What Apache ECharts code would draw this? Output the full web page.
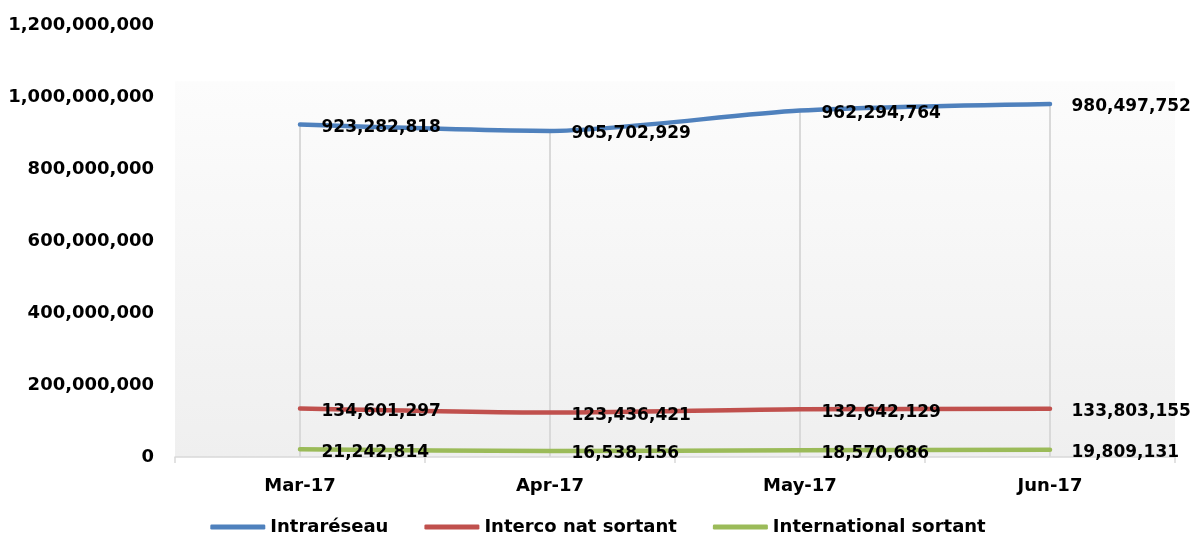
<!DOCTYPE html>
<html>
<head>
<meta charset="utf-8">
<script src="https://cdn.jsdelivr.net/npm/echarts@6/dist/echarts.min.js"></script>
<style>
html,body{margin:0;padding:0;background:#fff;}
#chart{width:1196px;height:543px;}
</style>
</head>
<body>
<div id="chart"></div>
<script>
const categories = ['Mar-17', 'Apr-17', 'May-17', 'Jun-17'];
const intrareseau = [923282818, 905702929, 962294764, 980497752];
const intercoNat = [134601297, 123436421, 132642129, 133803155];
const international = [21242814, 16538156, 18570686, 19809131];
const seriesNames = ['Intraréseau', 'Interco nat sortant', 'International sortant'];
const yTicks = { min: 0, max: 1200000000, interval: 200000000 };

const FONT = 'DejaVu Sans';
const fmt = v => Number(v).toLocaleString('en-US');

const chart = echarts.init(document.getElementById('chart'));
const labelCfg = {
  show: true,
  position: 'right',
  distance: 21,
  offset: [0, 3],
  color: '#000',
  fontFamily: FONT,
  fontWeight: 'bold',
  fontSize: 17,
  formatter: p => fmt(p.value)
};
function lineSeries(name, data, color) {
  return {
    name: name,
    type: 'line',
    data: data,
    smooth: 0.25,
    showSymbol: true,
    symbol: 'circle',
    symbolSize: 1,
    lineStyle: { color: color, width: 4.5, cap: 'round' },
    itemStyle: { color: color },
    label: labelCfg,
    z: 3
  };
}
chart.setOption({
  animation: false,
  grid: {
    left: 175, right: 21, top: 25, bottom: 86,
    show: true,
    borderWidth: 0,
    backgroundColor: {
      type: 'linear', x: 0, y: 0, x2: 0, y2: 1,
      colorStops: [
        { offset: 0, color: '#ffffff' },
        { offset: 0.13, color: '#ffffff' },
        { offset: 0.131, color: '#fcfcfc' },
        { offset: 1, color: '#efefef' }
      ]
    }
  },
  legend: {
    data: seriesNames,
    bottom: 2,
    left: 'center',
    icon: 'roundRect',
    itemWidth: 55,
    itemHeight: 5,
    itemGap: 36,
    textStyle: { fontFamily: FONT, fontWeight: 'bold', fontSize: 18, color: '#000' }
  },
  xAxis: {
    type: 'category',
    data: categories,
    boundaryGap: true,
    axisLine: { show: true, lineStyle: { color: '#d9d9d9', width: 1.5 } },
    axisTick: { show: true, length: 6, lineStyle: { color: '#d9d9d9', width: 1.5 } },
    axisLabel: { margin: 20, color: '#000', fontFamily: FONT, fontWeight: 'bold', fontSize: 18 },
    splitLine: { show: false }
  },
  yAxis: {
    type: 'value',
    min: yTicks.min, max: yTicks.max, interval: yTicks.interval,
    axisLine: { show: false },
    axisTick: { show: false },
    splitLine: { show: false },
    axisLabel: { margin: 21, padding: [4, 0, 0, 0], color: '#000', fontFamily: FONT, fontWeight: 'bold', fontSize: 18, formatter: v => fmt(v) }
  },
  series: [
    {
      name: 'drop',
      type: 'bar',
      data: intrareseau,
      barWidth: 2,
      itemStyle: { color: '#d9d9d9' },
      silent: true,
      z: 1
    },
    lineSeries(seriesNames[0], intrareseau, '#4f81bd'),
    lineSeries(seriesNames[1], intercoNat, '#c0504d'),
    lineSeries(seriesNames[2], international, '#9bbb59')
  ]
});
</script>
</body>
</html>
